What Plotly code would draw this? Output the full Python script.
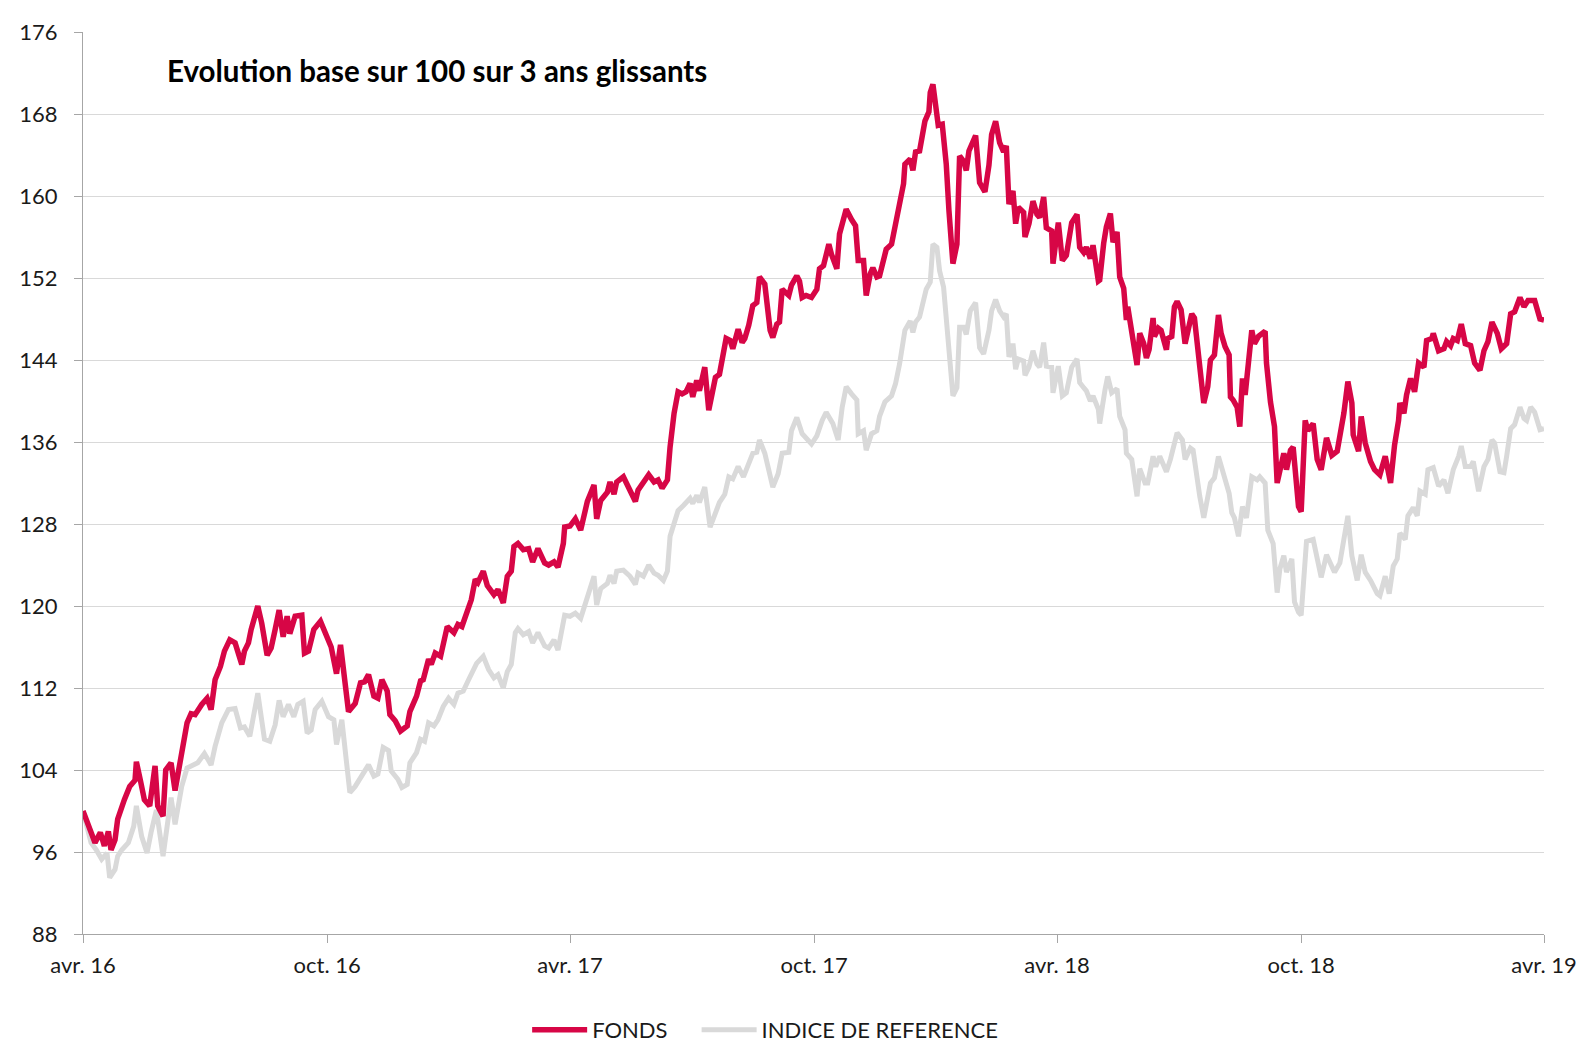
import plotly.graph_objects as go
import pandas as pd

DEBUT = "2016-04-01"
FIN = "2019-04-01"

# x axis ticks
tick_dates = ["2016-04-01", "2016-10-01", "2017-04-01", "2017-10-01",
              "2018-04-01", "2018-10-01", "2019-04-01"]
tick_labels = ["avr. 16", "oct. 16", "avr. 17", "oct. 17", "avr. 18", "oct. 18", "avr. 19"]

# FONDS : days since 2016-04-01 and base-100 values
fonds_jours = [
    0, 9, 13, 16, 19, 21, 24, 26, 31, 35, 39, 40, 43, 46, 50, 54, 56, 60, 62, 66,
    69, 74, 78, 81, 84, 89, 93, 96, 99, 103, 106, 110, 114, 119, 121, 124, 126, 131, 134, 138,
    141, 144, 147, 150, 153, 155, 159, 164, 166, 169, 173, 178, 183, 186, 190, 193, 199, 204, 208, 211,
    214,
    218, 221, 224, 228, 230, 234, 238, 243, 245, 250, 253, 255, 259, 261, 264, 268, 273, 278, 281, 284,
    288, 291, 294, 296, 300, 303, 308, 311, 315, 318, 321, 323, 326, 330, 334, 337, 341, 346, 349, 353,
    356, 360, 361, 365, 369, 373, 378, 383, 385, 388, 393, 395, 398, 400, 405, 410, 414, 416, 420, 424,
    428, 431, 434, 438, 440,
    443, 446, 449, 452, 455, 457, 460, 462, 466, 469, 474, 477, 480, 482, 485, 487, 491, 494, 496, 499,
    502, 505, 507, 511, 515, 517, 520, 522, 524, 529, 531, 535, 537, 539, 542, 546, 550, 552, 555, 559,
    561, 565, 567, 572, 576, 579, 581, 585, 587, 590, 592, 595,
    597, 600, 602, 606, 609, 612, 615, 616, 620, 622, 624, 627, 629, 631, 634, 635, 637, 639, 641, 644,
    647, 649, 652, 655, 657, 660, 662, 664, 666, 669, 672, 676, 679, 681, 684, 687, 690, 692, 694, 697,
    699, 701, 705, 706, 709, 711, 712, 715, 717, 720, 722, 726, 727, 731, 734, 737, 741, 745, 747, 750,
    752, 755, 757, 761,
    762, 765, 767, 770, 772, 775, 777, 780, 782, 783, 785, 787, 790, 792, 795, 797, 799, 802, 803, 806,
    808, 812, 813, 816, 818, 820, 823, 826, 828, 831, 833, 837, 840, 843, 845, 848, 851, 853, 856, 859,
    860, 862, 865, 867, 869, 871, 873, 876, 878, 881, 886, 887, 890, 893, 895,
    900, 902, 905, 907, 909, 911, 913, 916, 918, 922, 925, 928, 932, 936, 940, 942, 945, 948, 951, 952,
    956, 958, 961, 965, 968, 972, 976, 980, 983, 986, 987, 990, 992, 995, 998, 1001, 1005, 1007, 1011, 1012,
    1016, 1020, 1022, 1025, 1027, 1030, 1033, 1036, 1040, 1043, 1047, 1050, 1053, 1056, 1060, 1063, 1067, 1070, 1073, 1077,
    1080, 1083, 1088, 1092, 1095,
]
fonds = [
    100, 96.9, 97.9, 96.6, 98, 96.2, 97.2, 99.2, 101.1, 102.4, 103, 104.8, 103, 101.1, 100.5, 104.4, 100.5, 99.5, 104, 104.7,
    102, 105.6, 108.6, 109.5, 109.4, 110.4, 111, 109.9, 112.8, 114.1, 115.6, 116.7, 116.4, 114.3, 115.6, 116.4, 117.7, 120, 118.3, 115.2,
    115.9, 117.7, 119.6, 117, 119, 117.3, 119, 119.1, 115.4, 115.6, 117.7, 118.5, 116.7, 116, 113.4, 116.2, 109.7, 110.5, 112.5, 112.6,
    113.3,
    111.2, 111, 112.8, 111.7, 109.4, 108.8, 107.8, 108.3, 109.7, 111.2, 112.7, 112.8, 114.8, 114.3, 115.4, 115.1, 118, 117.4, 118.2, 118,
    119.5, 120.6, 122.6, 122.3, 123.4, 122, 121.1, 121.6, 120.3, 122.9, 123.4, 125.8, 126.1, 125.5, 125.6, 124.3, 125.6, 124.2, 124, 124.3,
    123.8, 126.1, 127.7, 127.8, 128.5, 127.4, 130.2, 131.8, 128.5, 130.3, 131.1, 132.1, 130.9, 132.1, 132.6, 131.3, 130.2, 131.3, 132, 132.8,
    132.1, 132.3, 131.5, 132.3, 135.5,
    138.8, 140.9, 140.7, 140.9, 141.7, 140.4, 142, 141, 143.3, 139.1, 142.3, 142.6, 144.4, 146.1, 145.9, 145.1, 147, 145.7, 146.1, 147.4,
    149.3, 149.6, 152.1, 151.4, 146.9, 146.2, 147.5, 147.7, 150.9, 150.3, 151.3, 152.2, 151.7, 150.1, 150.3, 150.1, 150.9, 152.9, 153.2, 155.3,
    154.3, 152.9, 156.3, 158.7, 157.7, 157.1, 153.7, 153.7, 150.3, 152.4, 153, 152.1,
    152.2, 153.9, 154.8, 155.3, 157.3, 159.9, 161.2, 163.1, 163.6, 162.5, 164.3, 164.4, 165.9, 167.3, 168.2, 170.1, 170.9, 169.1, 166.9, 167,
    163.1, 158.6, 153.4, 155.3, 163.9, 163.4, 162.5, 164.4, 165, 165.9, 161.3, 160.4, 163, 166, 167.3, 165.2, 164.3, 164.9, 159.2, 160.5,
    157.3, 158.9, 158.4, 156, 157.3, 159.4, 159.5, 158.2, 157.9, 159.9, 156.9, 156.6, 153.4, 157.4, 153.7, 154.2, 157.4, 158.2, 155, 154.5,
    155, 153.9, 155.2, 151.7,
    151.8, 155.4, 157, 158.3, 155.5, 156.5, 152.1, 151, 147.9, 149.2, 147.6, 146.3, 143.5, 146.6, 145.6, 144.2, 145, 148.1, 146.3, 147.1,
    146.9, 145, 146.1, 146.3, 149.2, 149.7, 148.9, 145.6, 146.6, 148.5, 148.1, 143.3, 139.8, 141.4, 144, 144.5, 148.4, 146.6, 145.3, 144.5,
    140.4, 140.1, 139.4, 137.5, 142.2, 140.6, 143.7, 146.9, 145.6, 146.3, 146.8, 143.7, 139.9, 137.5, 132,
    134.9, 133.3, 135.2, 135.5, 131.7, 129.7, 129.2, 138.1, 137.1, 137.8, 134.3, 133.3, 136.4, 134.7, 135.1, 136.4, 138.8, 141.9, 139.8, 136.7,
    135.1, 138.5, 135.9, 134.1, 133.3, 132.8, 134.6, 132, 135.7, 138.1, 139.8, 138.8, 140.6, 142.2, 140.9, 143.7, 143.3, 145.9, 146.1, 146.6,
    144.9, 145.1, 145.8, 145.4, 146.1, 145.9, 147.5, 145.6, 145.4, 143.7, 143, 144.9, 145.8, 147.7, 146.6, 145.1, 145.6, 148.5, 148.7, 150.1,
    149.2, 149.8, 149.8, 148, 147.9,
]

# INDICE DE REFERENCE
indice_jours = [
    0, 6, 10, 14, 18, 20, 24, 26, 29, 34, 38, 40, 44, 48, 51, 55, 60, 63, 66, 69,
    74, 78, 81, 86, 91, 96, 99, 104, 109, 114, 118, 121, 125, 131, 136, 140, 144, 147, 150, 154,
    158, 161, 165, 168, 171, 174, 179, 184, 188, 190, 194, 196, 200, 204, 209, 214,
    218, 221, 225, 229, 231, 236, 239, 243, 245, 250, 253, 256, 259, 263, 266, 270, 274, 278, 281, 285,
    289, 293, 295, 300, 304, 308, 311, 315, 318, 321, 324, 326, 330, 334, 337, 341, 346, 349, 353, 356,
    360, 361, 365, 369, 373, 378, 383, 385, 388, 393, 395, 398, 400, 405, 410, 414, 416, 420, 424, 428,
    431, 435, 438, 440, 444,
    446, 450, 455, 457, 460, 462, 466, 470, 474, 477, 481, 484, 487, 491, 495, 499, 502, 505, 507, 511,
    517, 521, 524, 529, 531, 535, 539, 546, 550, 554, 557, 562, 566, 569, 572, 576, 580, 581, 585, 587,
    591, 595,
    597, 601, 606, 609, 612, 616, 620, 622, 624, 627, 630, 632, 635, 637, 640, 642, 645, 647, 650, 652,
    655, 657, 660, 662, 665, 669, 672, 675, 679, 681, 684, 687, 690, 692, 694, 697, 699, 701, 705, 706,
    709, 712, 715, 717, 720, 722, 726, 727, 731, 734, 737, 741, 745, 747, 750, 752, 755, 757, 761,
    762, 766, 768, 771, 775, 777, 781, 782, 786, 790, 792, 796, 798, 802, 804, 807, 812, 815, 820, 824,
    826, 830, 832, 837, 840, 845, 848, 851, 855, 859, 861, 863, 866, 869, 872, 876, 880, 882, 886, 888,
    892, 895,
    897, 900, 902, 906, 908, 911, 913, 917, 922, 925, 928, 932, 936, 938, 942, 945, 948, 951, 955, 958,
    961, 965, 970, 972, 976, 979, 982, 985, 987, 991, 993, 997, 1000, 1002, 1006, 1008, 1012, 1016, 1020, 1023,
    1027, 1031, 1033, 1036, 1040, 1042, 1046, 1050, 1053, 1056, 1058, 1062, 1065, 1067, 1070, 1073, 1077, 1080, 1082, 1085,
    1088, 1092, 1095,
]
indice = [
    100, 96.9, 96.2, 95.3, 95.9, 93.5, 94.3, 95.6, 96.2, 96.9, 98.5, 100.5, 97.5, 95.9, 97.9, 100.1, 95.6, 98.8, 101.3, 98.7,
    102.4, 104.2, 104.4, 104.7, 105.6, 104.5, 106.3, 108.6, 109.9, 110, 108.1, 108.2, 107.3, 111.5, 107, 106.8, 108.4, 110.8, 109.2, 110.4,
    109.2, 110.4, 110.7, 107.6, 107.9, 109.9, 110.7, 109.2, 108.9, 106.5, 108.9, 106.3, 101.8, 102.4, 103.4, 104.5,
    103.4, 103.6, 106.2, 105.9, 103.9, 103.1, 102.3, 102.6, 104.7, 105.7, 107, 106.8, 108.6, 108.3, 108.9, 110.2, 111, 110.4, 111.5, 111.7,
    112.8, 113.8, 114.4, 115.1, 113.8, 113, 113.3, 112, 113.6, 114.3, 117.4, 117.8, 117.2, 117.5, 116.4, 117.4, 116.1, 115.9, 116.7, 115.7,
    118.7, 119.1, 119, 119.3, 118.8, 120.9, 122.9, 120.1, 121.7, 122.2, 123, 122.2, 123.4, 123.5, 122.9, 122.1, 123.2, 122.9, 124, 123.2,
    123, 122.5, 123.4, 126.8, 128.7,
    129.3, 129.8, 130.5, 130, 130.8, 130.1, 131.6, 127.7, 129, 130.1, 130.9, 132.6, 132.4, 133.6, 132.6, 133.9, 134.9, 135, 136.2, 134.9,
    131.6, 132.9, 134.9, 135, 137.1, 138.4, 136.8, 135.8, 136.6, 138.1, 138.9, 137.8, 136.2, 139.4, 141.4, 140.7, 140.1, 136.8, 137.1, 135.2,
    136.8, 137.1,
    138.5, 139.9, 140.5, 141.7, 143.6, 146.9, 147.8, 146.7, 147.7, 148.2, 149.8, 150.9, 151.6, 155.3, 155, 152.7, 151.1, 148.2, 143.6, 140.5,
    141.3, 147.2, 147.2, 146.5, 148.8, 149.6, 145.2, 144.6, 146.9, 148.8, 149.9, 148.8, 148.2, 148.5, 144.3, 145.6, 143.1, 144.1, 143.9, 142.5,
    143.3, 144.9, 143.6, 143.3, 145.7, 143.4, 143.3, 140.8, 143.4, 140.5, 140.8, 143.3, 144.1, 141.8, 141.3, 141, 140, 140.5, 139.2,
    137.8, 141.1, 142.4, 140.8, 141.2, 138.5, 137.2, 134.9, 134.3, 130.7, 133.4, 132, 132, 134.6, 133.6, 134.6, 133.1, 134.3, 136.9, 136.2,
    134.3, 135.4, 135.2, 130.7, 128.6, 132, 132.5, 134.6, 132.6, 131, 129.1, 128.6, 126.8, 129.7, 128.6, 132.6, 132.3, 132.6, 132, 127.4,
    126.1, 121.3,
    123.6, 124.9, 123.3, 124.6, 120.4, 119.4, 119.1, 126.3, 126.5, 124.6, 122.8, 125, 123.7, 123.3, 124.2, 126.5, 128.8, 124.9, 122.5, 125,
    123.3, 122.5, 121.2, 121, 122.9, 121.2, 123.9, 124.6, 127.1, 126.5, 128.8, 129.6, 128.8, 131.2, 130.9, 133.3, 133.5, 131.7, 132.3, 131,
    133.3, 134.6, 135.6, 133.6, 133.6, 134.1, 131.2, 133.6, 134.3, 136.2, 135.9, 133.1, 133, 134.6, 137.3, 137.7, 139.4, 138.3, 138.1, 139.4,
    138.9, 137.2, 137.3,
]

TITRE = "Evolution base sur 100 sur 3 ans glissants"


def to_dates(jours):
    return pd.Timestamp(DEBUT) + pd.to_timedelta(jours, unit="D")


FONT = "Lato, 'Open Sans', sans-serif"
AXIS_GREY = "#A6A6A6"
TEXT = "#1a1a1a"

fig = go.Figure()
fig.add_trace(go.Scatter(
    x=to_dates(indice_jours), y=indice, name="INDICE DE REFERENCE", mode="lines",
    line=dict(color="#D9D9D9", width=5), legend="legend2",
))
fig.add_trace(go.Scatter(
    x=to_dates(fonds_jours), y=fonds, name="FONDS", mode="lines",
    line=dict(color="#D70646", width=5.5), legend="legend",
))

legend_style = dict(
    orientation="h", xanchor="left", y=-0.1064, yanchor="middle",
    font=dict(family=FONT, size=22, color=TEXT),
    itemwidth=55, bgcolor="rgba(0,0,0,0)",
)

fig.update_layout(
    width=1581, height=1043,
    margin=dict(l=83, r=37, t=32, b=109, autoexpand=False),
    paper_bgcolor="white", plot_bgcolor="white",
    font=dict(family=FONT, size=22, color=TEXT),
    showlegend=True,
    legend=dict(x=0.304, **legend_style),
    legend2=dict(x=0.420, **legend_style),
    xaxis=dict(
        type="date", range=[DEBUT, FIN], automargin=False,
        tickmode="array", tickvals=tick_dates, ticktext=tick_labels,
        ticks="outside", ticklen=8, tickcolor=AXIS_GREY, tickwidth=1.3,
        showline=True, linecolor=AXIS_GREY, linewidth=1.3,
        showgrid=False, zeroline=False,
        tickfont=dict(family=FONT, size=22, color=TEXT),
        ticklabelstandoff=3,
    ),
    yaxis=dict(
        range=[88, 176], tick0=88, dtick=8, automargin=False,
        ticks="outside", ticklen=8, tickcolor=AXIS_GREY, tickwidth=1.3,
        showline=True, linecolor=AXIS_GREY, linewidth=1.3,
        showgrid=True, gridcolor="#D9D9D9", gridwidth=1.3, zeroline=False,
        tickfont=dict(family=FONT, size=22, color=TEXT),
        ticklabelstandoff=12,
    ),
    annotations=[dict(
        text="<b>" + TITRE + "</b>", xref="paper", yref="paper",
        x=0.0561, y=0.957, xanchor="left", yanchor="middle", showarrow=False,
        font=dict(family=FONT, size=29.5, color="#000000"),
    )],
)

fig.write_html("out.html")
